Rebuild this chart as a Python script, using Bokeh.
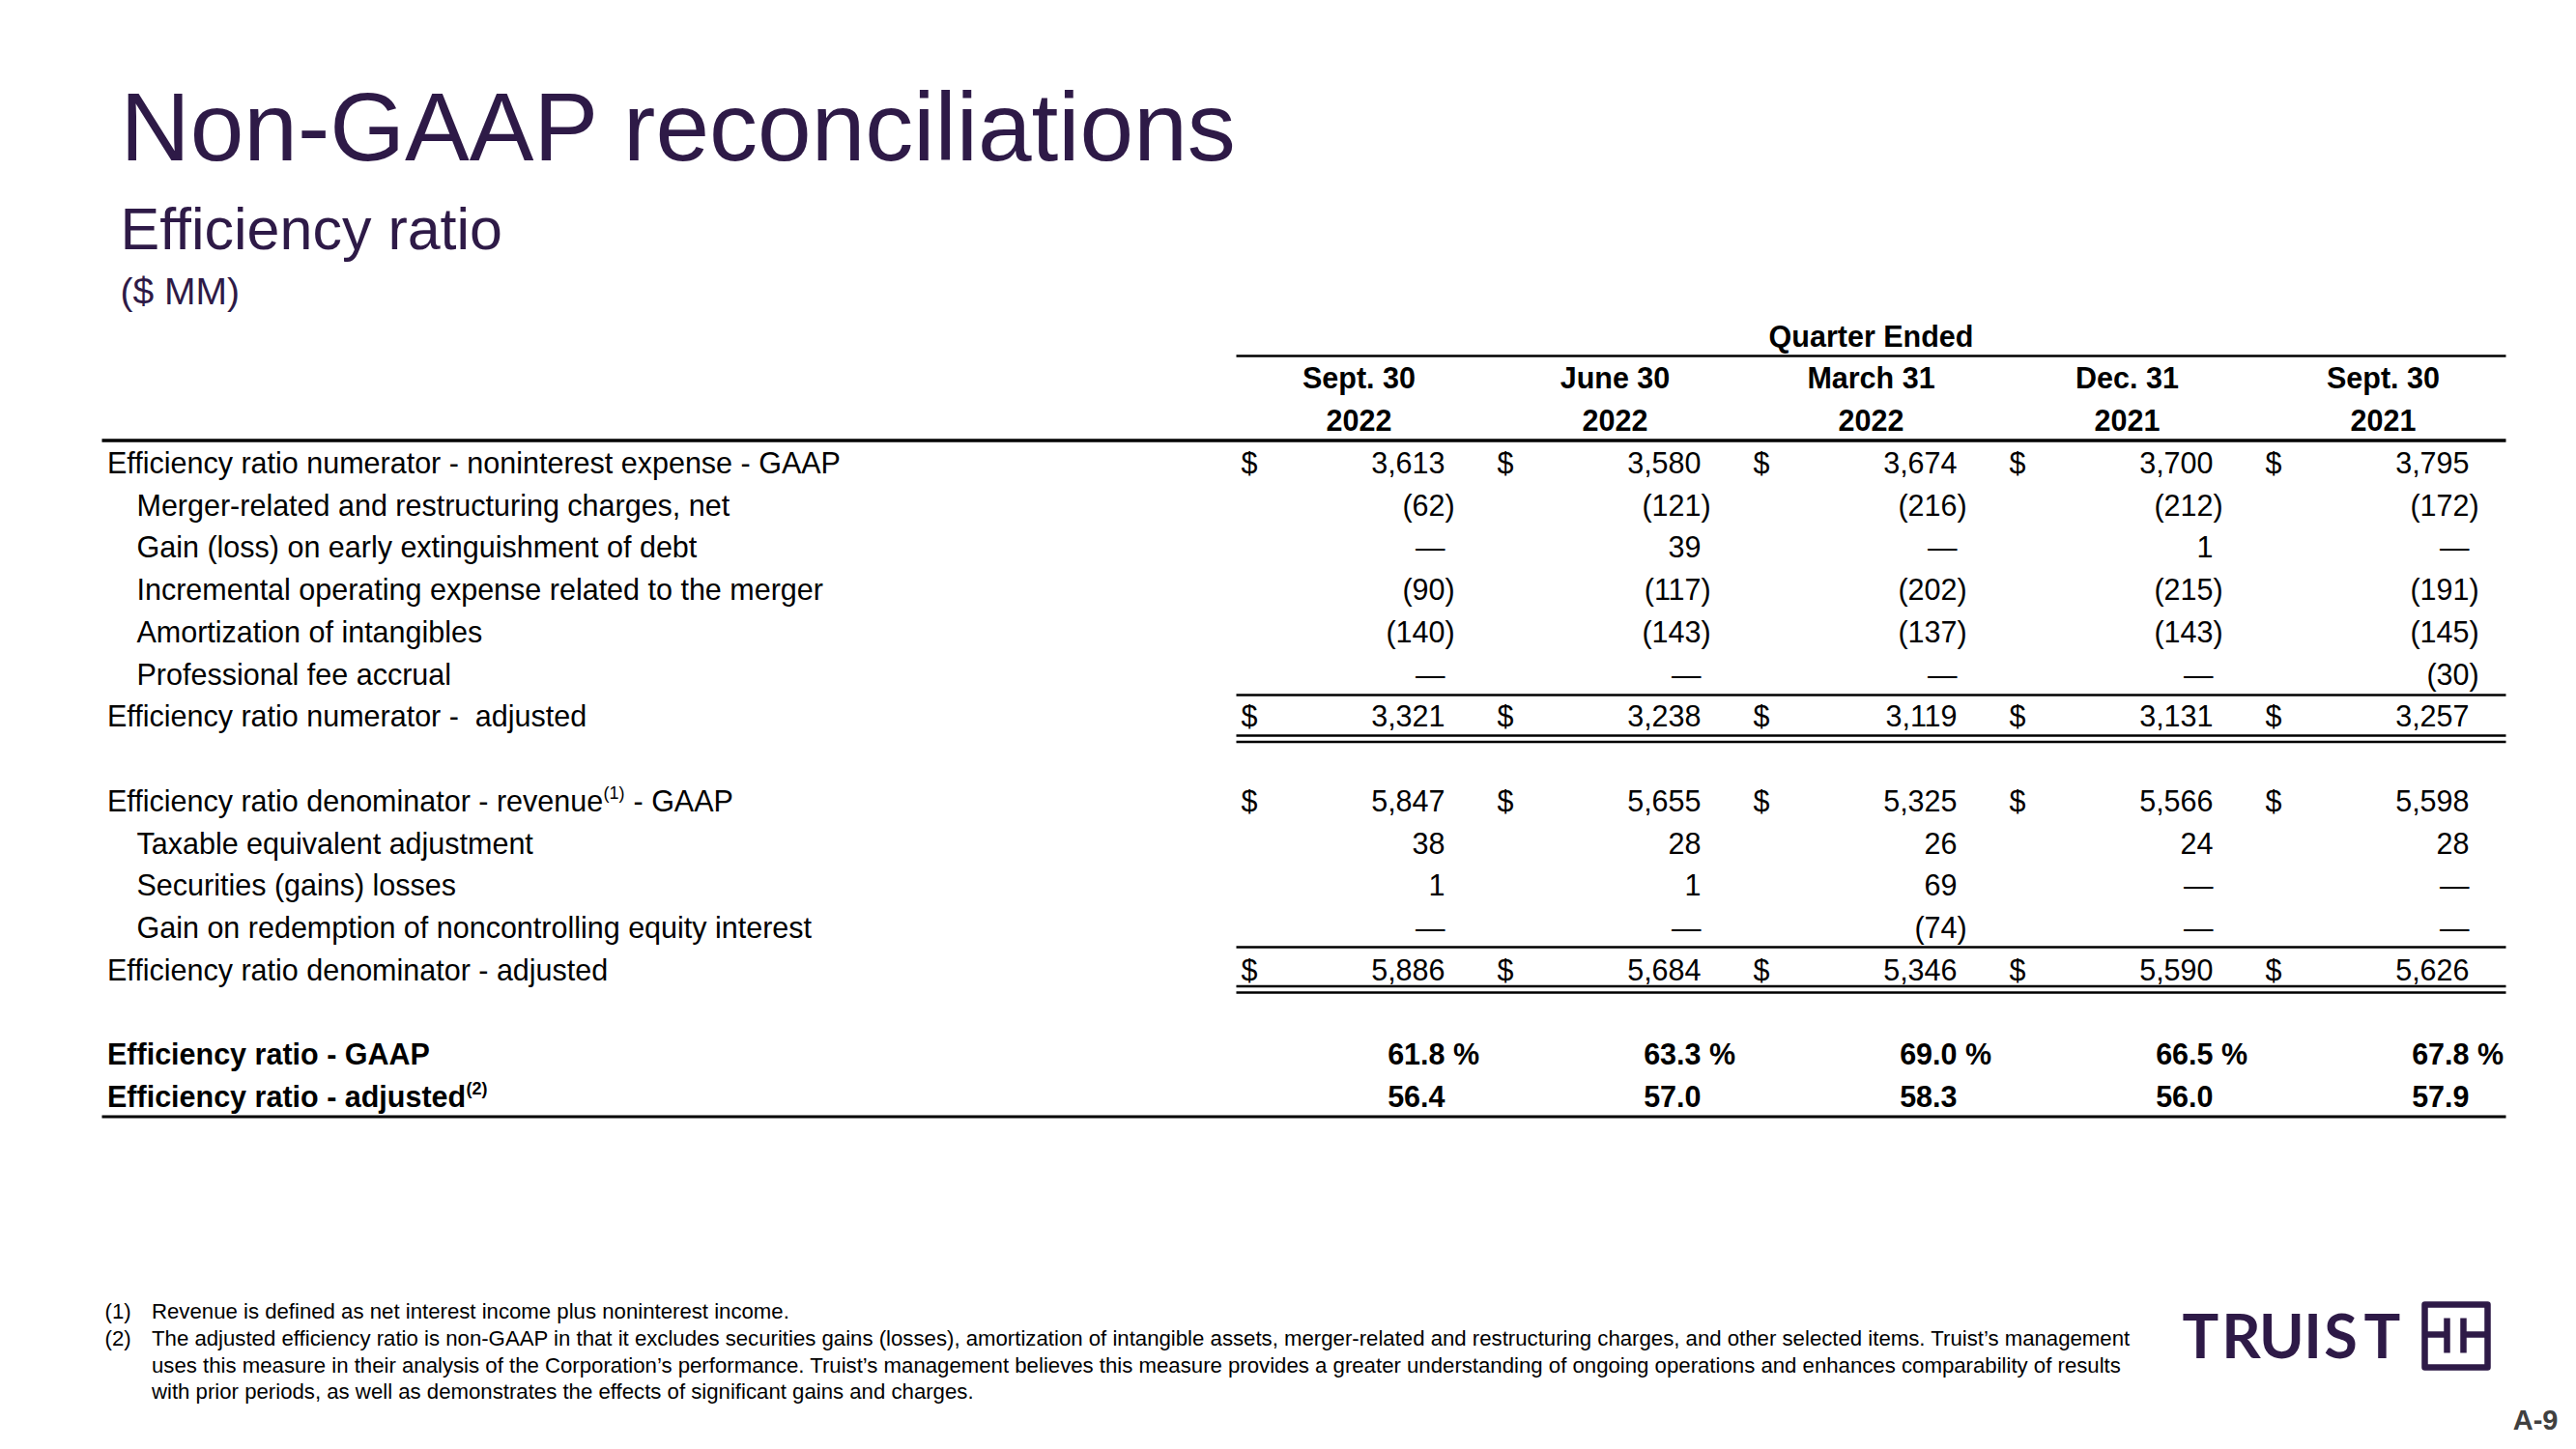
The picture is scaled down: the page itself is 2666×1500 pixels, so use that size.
from bokeh.plotting import figure
from bokeh.models import Range1d, ColumnDataSource
from bokeh.embed import file_html
from bokeh.resources import INLINE
from bokeh.core.properties import value

# ---------------- data ----------------
title = "Non-GAAP reconciliations"
subtitle = "Efficiency ratio"
units = "($ MM)"
group_header = "Quarter Ended"
periods = ["Sept. 30", "June 30", "March 31", "Dec. 31", "Sept. 30"]
years = ["2022", "2022", "2022", "2021", "2021"]

nonint_expense_gaap = [3613, 3580, 3674, 3700, 3795]
merger_charges = [-62, -121, -216, -212, -172]
gain_loss_debt = [None, 39, None, 1, None]
incremental_opex_merger = [-90, -117, -202, -215, -191]
amort_intangibles = [-140, -143, -137, -143, -145]
professional_fee_accrual = [None, None, None, None, -30]
numerator_adjusted = [3321, 3238, 3119, 3131, 3257]
revenue_gaap = [5847, 5655, 5325, 5566, 5598]
te_adjustment = [38, 28, 26, 24, 28]
securities_losses = [1, 1, 69, None, None]
gain_nci_redemption = [None, None, -74, None, None]
denominator_adjusted = [5886, 5684, 5346, 5590, 5626]
eff_ratio_gaap = [61.8, 63.3, 69.0, 66.5, 67.8]
eff_ratio_adjusted = [56.4, 57.0, 58.3, 56.0, 57.9]

row_labels = [
    "Efficiency ratio numerator - noninterest expense - GAAP",
    "Merger-related and restructuring charges, net",
    "Gain (loss) on early extinguishment of debt",
    "Incremental operating expense related to the merger",
    "Amortization of intangibles",
    "Professional fee accrual",
    "Efficiency ratio numerator -\u00a0 adjusted",
    "Efficiency ratio denominator - revenue",
    "Taxable equivalent adjustment",
    "Securities (gains) losses",
    "Gain on redemption of noncontrolling equity interest",
    "Efficiency ratio denominator - adjusted",
    "Efficiency ratio - GAAP",
    "Efficiency ratio - adjusted",
]
row_values = [nonint_expense_gaap, merger_charges, gain_loss_debt, incremental_opex_merger,
              amort_intangibles, professional_fee_accrual, numerator_adjusted,
              revenue_gaap, te_adjustment, securities_losses, gain_nci_redemption,
              denominator_adjusted, eff_ratio_gaap, eff_ratio_adjusted]
row_slot = [0, 1, 2, 3, 4, 5, 6, 8, 9, 10, 11, 12, 14, 15]
row_indent = [False, True, True, True, True, True, False, False, True, True, True, False, False, False]
row_bold = [False] * 12 + [True, True]
row_dollar = [True, False, False, False, False, False, True, True, False, False, False, True, False, False]
row_kind = ["num"] * 12 + ["pct_sym", "pct"]

footnotes = [
    ("(1)", "Revenue is defined as net interest income plus noninterest income."),
    ("(2)", "The adjusted efficiency ratio is non-GAAP in that it excludes securities gains (losses), amortization of intangible assets, merger-related and restructuring charges, and other selected items. Truist\u2019s management"),
    ("", "uses this measure in their analysis of the Corporation\u2019s performance. Truist\u2019s management believes this measure provides a greater understanding of ongoing operations and enhances comparability of results"),
    ("", "with prior periods, as well as demonstrates the effects of significant gains and charges."),
]
page_no = "A-9"
brand = "TRUIST"

# ---------------- layout ----------------
PURPLE = "#2E1A47"
FONT = "Liberation Sans"
W, H = 2660, 1494
p = figure(width=W, height=H, x_range=Range1d(0, W), y_range=Range1d(H, 0),
           output_backend="svg", toolbar_location=None, min_border=0,
           x_axis_location=None, y_axis_location=None)
p.grid.visible = False
p.outline_line_color = None
p.background_fill_color = "white"
p.border_fill_color = "white"

K = 0.38  # baseline correction, fraction of font size


def add_text(xs, ys, texts, size, align="left", bold=False, color="#000000", font=FONT):
    src = ColumnDataSource(dict(x=list(xs), y=[y - K * size for y in ys], text=list(texts)))
    p.text(x="x", y="y", text="text", source=src, text_font=value(font),
           text_font_size=f"{size}px", text_align=align, text_baseline="alphabetic",
           text_color=color, text_font_style="bold" if bold else "normal")


# titles
add_text([124], [168], [title], 100, color=PURPLE)
add_text([124], [260], [subtitle], 61, color=PURPLE)
add_text([124], [316], [units], 39, color=PURPLE)

ROW0, DY = 479, 43.75
FS = 30.5
BOFF = 10.9
LABEL_X, INDENT_X = 110.5, 141
DOLLAR_X0, COL_W = 1284, 265
NUM_R0 = 1495
HDR_C0 = 1406


def row_y(slot):
    return ROW0 + slot * DY + BOFF


# header
add_text([HDR_C0 + 2 * COL_W], [row_y(-3)], [group_header], FS, align="center", bold=True)
add_text([HDR_C0 + j * COL_W for j in range(5)], [row_y(-2)] * 5, periods, FS, align="center", bold=True)
add_text([HDR_C0 + j * COL_W for j in range(5)], [row_y(-1)] * 5, years, FS, align="center", bold=True)

# labels
for bold in (False, True):
    xs, ys, ts = [], [], []
    for lab, slot, ind, b in zip(row_labels, row_slot, row_indent, row_bold):
        if b != bold:
            continue
        xs.append(INDENT_X if ind else LABEL_X)
        ys.append(row_y(slot))
        ts.append(lab)
    add_text(xs, ys, ts, FS, bold=bold)

# superscripts and continuation of labels
add_text([624], [row_y(8) - 13], ["(1)"], 18)
add_text([655], [row_y(8)], ["- GAAP"], FS)
add_text([482], [row_y(15) - 13], ["(2)"], 18, bold=True)

# numbers
for bold in (False, True):
    mx, my, mt = [], [], []
    sx, sy, st = [], [], []
    dx, dy, dt = [], [], []
    for vals, slot, b, dol, kind in zip(row_values, row_slot, row_bold, row_dollar, row_kind):
        if b != bold:
            continue
        y = row_y(slot)
        for j, v in enumerate(vals):
            xr = NUM_R0 + j * COL_W
            if dol:
                dx.append(DOLLAR_X0 + j * COL_W); dy.append(y); dt.append("$")
            if v is None:
                mx.append(xr); my.append(y); mt.append("\u2014")
            elif kind == "num":
                if v < 0:
                    mx.append(xr); my.append(y); mt.append(f"({-v:,}")
                    sx.append(xr); sy.append(y); st.append(")")
                else:
                    mx.append(xr); my.append(y); mt.append(f"{v:,}")
            else:
                mx.append(xr); my.append(y); mt.append(f"{v:.1f}")
                if kind == "pct_sym":
                    sx.append(xr + 8.5); sy.append(y); st.append("%")
    if mx:
        add_text(mx, my, mt, FS, align="right", bold=bold)
    if sx:
        add_text(sx, sy, st, FS, align="left", bold=bold)
    if dx:
        add_text(dx, dy, dt, FS, align="left", bold=bold)

# rules
RX0, RX1 = 1279, 2593
LX0 = 105
rules = [
    (RX0, RX1, 368, 2.5),
    (LX0, RX1, 455.5, 3.5),
    (RX0, RX1, 719, 2.5),
    (RX0, RX1, 761, 2.5),
    (RX0, RX1, 767.5, 2.5),
    (RX0, RX1, 980, 2.5),
    (RX0, RX1, 1020.5, 2.5),
    (RX0, RX1, 1027, 2.5),
    (LX0, RX1, 1155.5, 3),
]
for x0, x1, y, w in rules:
    p.segment(x0=[x0], y0=[y], x1=[x1], y1=[y], line_color="black", line_width=w)

# footnotes
fy = [1365, 1393.5, 1421, 1448.5]
add_text([108] * 2, fy[:2], [f[0] for f in footnotes[:2]], 22.2)
add_text([156.5] * 4, fy, [f[1] for f in footnotes], 22.2)

# page number
add_text([2647], [1481], [page_no], 29, align="right", bold=True, color="#404040")

# logo text
letter_x = [2277, 2319, 2361, 2393, 2422, 2465]
add_text(letter_x, [1404.5] * 6, list(brand), 63, align="center", bold=True, color=PURPLE, font="Lato")

# logo mark
p.quad(left=[2509], right=[2574], top=[1350], bottom=[1415], fill_color=None,
       line_color=PURPLE, line_width=6.5, line_join="round")
p.segment(x0=[2532, 2549], y0=[1364, 1364], x1=[2532, 2549], y1=[1400, 1400],
          line_color=PURPLE, line_width=6.5)
p.segment(x0=[2509, 2549], y0=[1381, 1381], x1=[2532, 2574], y1=[1381, 1381],
          line_color=PURPLE, line_width=6.5)

open("out.html", "w").write(file_html(p, INLINE))
